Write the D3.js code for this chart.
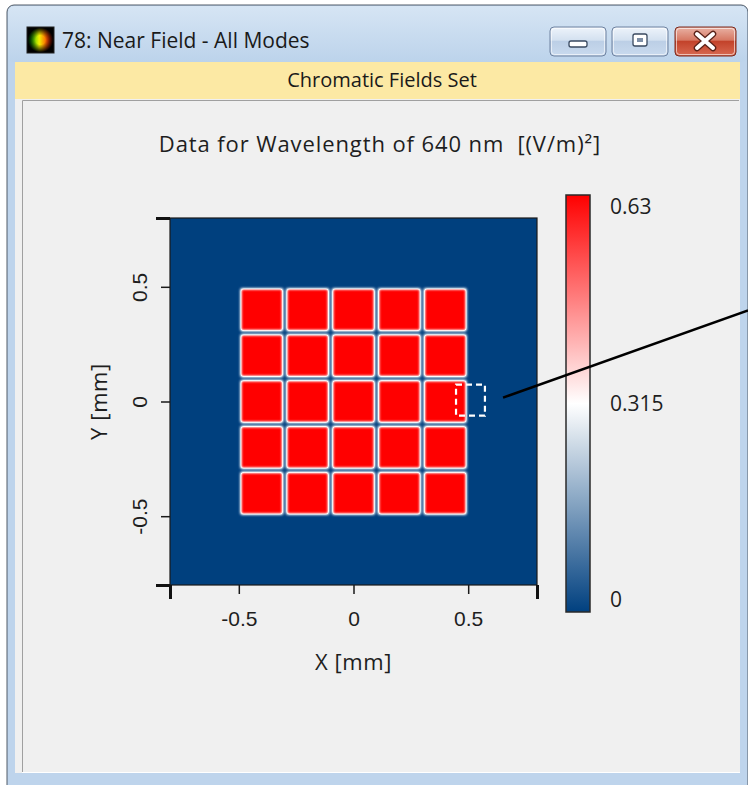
<!DOCTYPE html>
<html>
<head>
<meta charset="utf-8">
<script src="https://cdn.jsdelivr.net/npm/d3@7"></script>
<style>
  html, body { margin: 0; padding: 0; background: #ffffff; }
  svg { display: block; font-family: "Open Sans", "Noto Sans", sans-serif; }
  text { white-space: pre; }
</style>
</head>
<body>
<svg id="chart" width="748" height="785"></svg>
<script>
// ---- Near-field intensity: 5 x 5 array of square apertures (mm, (V/m)^2) ----
const apertureX = [-0.4, -0.2, 0, 0.2, 0.4];
const apertureY = [0.4, 0.2, 0, -0.2, -0.4];
const apertureIntensity = [
  [0.63, 0.63, 0.63, 0.63, 0.63],
  [0.63, 0.63, 0.63, 0.63, 0.63],
  [0.63, 0.63, 0.63, 0.63, 0.63],
  [0.63, 0.63, 0.63, 0.63, 0.63],
  [0.63, 0.63, 0.63, 0.63, 0.63]
];
const apertureWidth = 0.182;           // mm
const backgroundIntensity = 0;
const fieldExtent = [-0.8, 0.8];       // mm, both axes
const xTicks = [-0.5, 0, 0.5];
const yTicks = [-0.5, 0, 0.5];
const colorDomain = [0, 0.315, 0.63];
const colorRange = ["#00407f", "#ffffff", "#ff0000"];
const colorTicks = [0, 0.315, 0.63];
// Detector marker (mm) and its leader line end points (mm)
const detectorBox = [0.447, -0.062, 0.573, 0.074];
const leaderLine = [[0.652, 0.017], [1.72, 0.397]];

const windowTitle = "78: Near Field - All Modes";
const bannerText = "Chromatic Fields Set";
const chartTitle = "Data for Wavelength of 640 nm  [(V/m)\u00B2]";
const xLabel = "X [mm]";
const yLabel = "Y [mm]";

const svg = d3.select("#chart");
const defs = svg.append("defs");
const ink = "#1e1e1e";

// ---------------- window chrome ----------------
const tb = defs.append("linearGradient").attr("id", "titleGrad").attr("x1", 0).attr("y1", 0).attr("x2", 0).attr("y2", 1);
tb.append("stop").attr("offset", 0).attr("stop-color", "#d6e5f4");
tb.append("stop").attr("offset", 1).attr("stop-color", "#bcd3eb");

const btnG = defs.append("linearGradient").attr("id", "btnGrad").attr("x1", 0).attr("y1", 0).attr("x2", 0).attr("y2", 1);
btnG.append("stop").attr("offset", 0).attr("stop-color", "#eef4fb");
btnG.append("stop").attr("offset", 0.45).attr("stop-color", "#d4e1f0");
btnG.append("stop").attr("offset", 0.5).attr("stop-color", "#bccfe6");
btnG.append("stop").attr("offset", 1).attr("stop-color", "#c9daee");

const clsG = defs.append("linearGradient").attr("id", "closeGrad").attr("x1", 0).attr("y1", 0).attr("x2", 0).attr("y2", 1);
clsG.append("stop").attr("offset", 0).attr("stop-color", "#eab3a6");
clsG.append("stop").attr("offset", 0.45).attr("stop-color", "#d67863");
clsG.append("stop").attr("offset", 0.5).attr("stop-color", "#c3432b");
clsG.append("stop").attr("offset", 1).attr("stop-color", "#d86a52");

const iconLin = defs.append("linearGradient").attr("id", "iconLin").attr("x1", 0).attr("y1", 0).attr("x2", 1).attr("y2", 0);
iconLin.append("stop").attr("offset", 0.1).attr("stop-color", "#00b000");
iconLin.append("stop").attr("offset", 0.45).attr("stop-color", "#f0f000");
iconLin.append("stop").attr("offset", 0.75).attr("stop-color", "#ff5000");
iconLin.append("stop").attr("offset", 1).attr("stop-color", "#c00000");
const iconRad = defs.append("radialGradient").attr("id", "iconRad");
iconRad.append("stop").attr("offset", 0.35).attr("stop-color", "#000").attr("stop-opacity", 0);
iconRad.append("stop").attr("offset", 0.95).attr("stop-color", "#000").attr("stop-opacity", 1);

// frame
svg.append("rect").attr("x", 7).attr("y", 5).attr("width", 741).attr("height", 800)
  .attr("rx", 7).attr("fill", "#bed4ec").attr("stroke", "#505a66").attr("stroke-width", 1);
svg.append("rect").attr("x", 8).attr("y", 6).attr("width", 739).attr("height", 56)
  .attr("rx", 6).attr("fill", "url(#titleGrad)");

// icon
svg.append("rect").attr("x", 27).attr("y", 27).attr("width", 27).attr("height", 26).attr("fill", "url(#iconLin)");
svg.append("rect").attr("x", 27).attr("y", 27).attr("width", 27).attr("height", 26).attr("fill", "url(#iconRad)")
  .attr("stroke", "#222").attr("stroke-width", 1);

svg.append("text").attr("x", 62).attr("y", 48).attr("font-size", 21).attr("fill", "#1a1a1a")
  .text(windowTitle);

// caption buttons
function capButton(x, w, fill, stroke) {
  svg.append("rect").attr("x", x).attr("y", 27).attr("width", w).attr("height", 29)
    .attr("rx", 4).attr("fill", fill).attr("stroke", stroke).attr("stroke-width", 1);
  svg.append("rect").attr("x", x + 1.5).attr("y", 28.5).attr("width", w - 3).attr("height", 26)
    .attr("rx", 3).attr("fill", "none").attr("stroke", "#ffffff").attr("stroke-opacity", 0.6);
}
capButton(550, 56, "url(#btnGrad)", "#6e82a0");
capButton(612, 56, "url(#btnGrad)", "#6e82a0");
capButton(675, 61, "url(#closeGrad)", "#7a2a1e");
svg.append("rect").attr("x", 569).attr("y", 41).attr("width", 18).attr("height", 6).attr("rx", 2)
  .attr("fill", "#ffffff").attr("stroke", "#3a4a60").attr("stroke-width", 1.3);
svg.append("rect").attr("x", 633).attr("y", 34).attr("width", 14).attr("height", 12).attr("rx", 2)
  .attr("fill", "#ffffff").attr("stroke", "#3a4a60").attr("stroke-width", 1.3);
svg.append("rect").attr("x", 637).attr("y", 38).attr("width", 6).attr("height", 4)
  .attr("fill", "#7d8ea6");
svg.append("path").attr("d", "M697,34 L713,48 M713,34 L697,48")
  .attr("stroke", "#5a2218").attr("stroke-width", 6.5).attr("stroke-linecap", "round");
svg.append("path").attr("d", "M697,34 L713,48 M713,34 L697,48")
  .attr("stroke", "#ffffff").attr("stroke-width", 4).attr("stroke-linecap", "round");

// banner
svg.append("rect").attr("x", 15).attr("y", 62).attr("width", 725).attr("height", 37).attr("fill", "#fce9a4");
svg.append("text").attr("x", 382).attr("y", 87).attr("text-anchor", "middle").attr("font-size", 20)
  .attr("fill", "#1a1a1a").text(bannerText);

// client panel
svg.append("rect").attr("x", 15).attr("y", 99).attr("width", 725).attr("height", 674).attr("fill", "#f0f0f0");
svg.append("path").attr("d", "M22.5,772 V100.5 H739").attr("fill", "none").attr("stroke", "#a0a0a0").attr("stroke-width", 1);
svg.append("path").attr("d", "M22,772.5 H740").attr("fill", "none").attr("stroke", "#ffffff").attr("stroke-width", 1);

// ---------------- chart ----------------
const plot = { left: 170, top: 218, size: 367 };
const x = d3.scaleLinear().domain(fieldExtent).range([plot.left, plot.left + plot.size]);
const y = d3.scaleLinear().domain(fieldExtent).range([plot.top + plot.size, plot.top]);
const color = d3.scaleLinear().domain(colorDomain).range(colorRange);
const vmax = colorDomain[colorDomain.length - 1];
const axisFont = 21;

svg.append("text").attr("x", 380).attr("y", 152).attr("text-anchor", "middle").attr("font-size", 22)
  .attr("letter-spacing", 0.9).attr("fill", ink).text(chartTitle);

// Intensity map: cells are drawn as grey levels, softened, then mapped through the colour scale
const nLut = 96;
const lut = d3.range(nLut).map(i => d3.rgb(color(i / (nLut - 1) * vmax)));
const filt = defs.append("filter").attr("id", "fieldMap")
  .attr("filterUnits", "userSpaceOnUse")
  .attr("x", plot.left - 20).attr("y", plot.top - 20)
  .attr("width", plot.size + 40).attr("height", plot.size + 40)
  .attr("color-interpolation-filters", "sRGB");
filt.append("feGaussianBlur").attr("in", "SourceGraphic").attr("stdDeviation", 1.6).attr("result", "soft");
const ct = filt.append("feComponentTransfer").attr("in", "soft");
ct.append("feFuncR").attr("type", "table").attr("tableValues", lut.map(c => (c.r / 255).toFixed(4)).join(" "));
ct.append("feFuncG").attr("type", "table").attr("tableValues", lut.map(c => (c.g / 255).toFixed(4)).join(" "));
ct.append("feFuncB").attr("type", "table").attr("tableValues", lut.map(c => (c.b / 255).toFixed(4)).join(" "));

defs.append("clipPath").attr("id", "plotClip").append("rect")
  .attr("x", plot.left).attr("y", plot.top).attr("width", plot.size).attr("height", plot.size);

const grey = v => { const g = Math.round(255 * v / vmax); return `rgb(${g},${g},${g})`; };
const cells = [];
apertureY.forEach((yc, r) => apertureX.forEach((xc, c) => cells.push({ xc, yc, v: apertureIntensity[r][c] })));

const field = svg.append("g").attr("clip-path", "url(#plotClip)")
  .append("g").attr("filter", "url(#fieldMap)");
field.append("rect")
  .attr("x", plot.left - 15).attr("y", plot.top - 15)
  .attr("width", plot.size + 30).attr("height", plot.size + 30)
  .attr("fill", grey(backgroundIntensity));
field.selectAll("rect.cell").data(cells).join("rect").attr("class", "cell")
  .attr("x", d => x(d.xc - apertureWidth / 2))
  .attr("y", d => y(d.yc + apertureWidth / 2))
  .attr("width", d => x(d.xc + apertureWidth / 2) - x(d.xc - apertureWidth / 2))
  .attr("height", d => y(d.yc - apertureWidth / 2) - y(d.yc + apertureWidth / 2))
  .attr("fill", d => grey(d.v));

svg.append("rect").attr("x", plot.left).attr("y", plot.top).attr("width", plot.size).attr("height", plot.size)
  .attr("fill", "none").attr("stroke", "#1a1a1a").attr("stroke-width", 1.2);

// axes
const xAxis = svg.append("g").attr("transform", `translate(0,${plot.top + plot.size})`)
  .call(d3.axisBottom(x).tickValues(xTicks).tickSize(9).tickPadding(17).tickFormat(d => String(d)));
const yAxis = svg.append("g").attr("transform", `translate(${plot.left},0)`)
  .call(d3.axisLeft(y).tickValues(yTicks).tickSize(9).tickPadding(10).tickFormat(d => String(d)));
[xAxis, yAxis].forEach(a => {
  a.select(".domain").remove();
  a.selectAll(".tick line").attr("stroke", "#1a1a1a").attr("stroke-width", 1.5);
  a.selectAll(".tick text").attr("font-size", axisFont).attr("fill", ink).attr("font-family", null);
});
yAxis.selectAll(".tick text")
  .attr("x", null).attr("dy", null)
  .attr("text-anchor", "middle")
  .attr("transform", "translate(-30,0) rotate(-90)")
  .attr("dy", "0.35em");

// heavier end marks at the corners of the field window
const xEnds = svg.append("g").attr("transform", `translate(0,${plot.top + plot.size})`)
  .call(d3.axisBottom(x).tickValues(fieldExtent).tickSize(14).tickFormat(""));
const yEnds = svg.append("g").attr("transform", `translate(${plot.left},0)`)
  .call(d3.axisLeft(y).tickValues(fieldExtent).tickSize(14).tickFormat(""));
[xEnds, yEnds].forEach(a => {
  a.select(".domain").remove();
  a.selectAll(".tick line").attr("stroke", "#111").attr("stroke-width", 3);
});

svg.append("text").attr("x", x(0)).attr("y", 670).attr("text-anchor", "middle").attr("font-size", 22)
  .attr("letter-spacing", 0.6).attr("fill", ink).text(xLabel);
svg.append("text").attr("transform", `translate(107,${y(0)}) rotate(-90)`).attr("text-anchor", "middle")
  .attr("font-size", 22).attr("letter-spacing", 0.6).attr("fill", ink).text(yLabel);

// colour bar
const cb = { left: 566, top: 195, width: 24, height: 417 };
const cScale = d3.scaleLinear().domain([colorDomain[0], vmax]).range([cb.top + cb.height, cb.top]);
const cbGrad = defs.append("linearGradient").attr("id", "cbGrad").attr("x1", 0).attr("y1", 1).attr("x2", 0).attr("y2", 0);
d3.range(21).forEach(i => {
  const t = i / 20;
  cbGrad.append("stop").attr("offset", t).attr("stop-color", color(t * vmax));
});
svg.append("rect").attr("x", cb.left).attr("y", cb.top).attr("width", cb.width).attr("height", cb.height)
  .attr("fill", "url(#cbGrad)").attr("stroke", "#2a2a2a").attr("stroke-width", 1.5);
svg.append("g").selectAll("text").data(colorTicks).join("text")
  .attr("x", cb.left + cb.width + 20)
  .attr("y", d => Math.max(cb.top + 12, Math.min(cb.top + cb.height - 12, cScale(d))))
  .attr("dy", "0.35em").attr("font-size", axisFont).attr("fill", ink)
  .text(d => String(d));

// detector marker and leader line
svg.append("rect")
  .attr("x", x(detectorBox[0])).attr("y", y(detectorBox[3]))
  .attr("width", x(detectorBox[2]) - x(detectorBox[0]))
  .attr("height", y(detectorBox[1]) - y(detectorBox[3]))
  .attr("fill", "none").attr("stroke", "#ffffff").attr("stroke-width", 2.2).attr("stroke-dasharray", "6,4");
svg.append("line")
  .attr("x1", x(leaderLine[0][0])).attr("y1", y(leaderLine[0][1]))
  .attr("x2", x(leaderLine[1][0])).attr("y2", y(leaderLine[1][1]))
  .attr("stroke", "#000").attr("stroke-width", 2.5);
</script>
</body>
</html>
